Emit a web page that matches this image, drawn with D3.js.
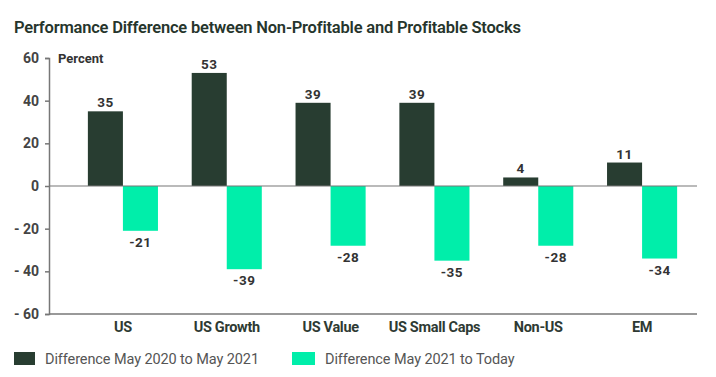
<!DOCTYPE html>
<html>
<head>
<meta charset="utf-8">
<script src="https://cdn.jsdelivr.net/npm/d3@7"></script>
<style>
  body { margin: 0; background: #fff; }
  svg { font-family: Roboto, "Noto Sans", sans-serif; }
</style>
</head>
<body>
<div id="chart"></div>
<script>
// data
var categories = ["US", "US Growth", "US Value", "US Small Caps", "Non-US", "EM"];
var seriesNames = ["Difference May 2020 to May 2021", "Difference May 2021 to Today"];
var diff2020to2021 = [35, 53, 39, 39, 4, 11];
var diff2021toToday = [-21, -39, -28, -35, -28, -34];
var yTicks = [60, 40, 20, 0, -20, -40, -60];

var colors = ["#283d31", "#00eeaa"];
var width = 716, height = 377;

var svg = d3.select("#chart").append("svg")
    .attr("width", width)
    .attr("height", height);

svg.append("text")
    .attr("x", 14).attr("y", 33)
    .attr("font-size", 16.5).attr("font-weight", 600)
    .attr("fill", "#26352c")
    .attr("letter-spacing", -0.2)
    .text("Performance Difference between Non-Profitable and Profitable Stocks");

var plotLeft = 49, plotRight = 697;
var y = d3.scaleLinear().domain([-60, 60]).range([314, 58]);
var x0 = d3.scaleBand().domain(categories).range([71, 694])
    .paddingInner(0.325).paddingOuter(0.1625);
var x1 = d3.scaleBand().domain([0, 1]).range([0, x0.bandwidth()]);

// y axis
var yAxis = svg.append("g")
    .attr("transform", "translate(" + plotLeft + ",0)")
    .call(d3.axisLeft(y).tickValues(yTicks).tickSize(4).tickPadding(6)
        .tickFormat(function (d) { return d < 0 ? "- " + Math.abs(d) : d; }));
yAxis.select(".domain").attr("stroke", "#777").attr("stroke-width", 1.5);
yAxis.selectAll(".tick line").attr("stroke", "#777").attr("stroke-width", 1.5);
yAxis.selectAll(".tick text")
    .attr("font-size", 14).attr("font-weight", 700).attr("fill", "#444")
    .attr("font-family", "Roboto, sans-serif");

svg.append("text")
    .attr("x", 58).attr("y", 63)
    .attr("font-size", 13).attr("font-weight", 700).attr("fill", "#333")
    .text("Percent");

// bottom axis line
svg.append("line")
    .attr("x1", plotLeft).attr("x2", plotRight)
    .attr("y1", y(-60)).attr("y2", y(-60))
    .attr("stroke", "#777").attr("stroke-width", 1.5);

var rows = categories.map(function (c, i) {
    return { cat: c, vals: [diff2020to2021[i], diff2021toToday[i]] };
});

var groups = svg.selectAll(".grp").data(rows).enter().append("g")
    .attr("class", "grp")
    .attr("transform", function (d) { return "translate(" + x0(d.cat) + ",0)"; });

groups.selectAll("rect")
    .data(function (d) { return d.vals; })
    .enter().append("rect")
    .attr("x", function (d, i) { return x1(i); })
    .attr("width", x1.bandwidth())
    .attr("y", function (d) { return y(Math.max(0, d)); })
    .attr("height", function (d) { return Math.abs(y(d) - y(0)); })
    .attr("fill", function (d, i) { return colors[i]; });

groups.selectAll(".val")
    .data(function (d) { return d.vals; })
    .enter().append("text")
    .attr("class", "val")
    .attr("x", function (d, i) { return x1(i) + x1.bandwidth() / 2; })
    .attr("y", function (d) { return d >= 0 ? y(d) - 4 : y(d) + 16; })
    .attr("text-anchor", "middle")
    .attr("font-size", 13.5).attr("font-weight", 700).attr("fill", "#333")
    .attr("letter-spacing", 0.5)
    .text(function (d) { return d; });

// zero line
svg.append("line")
    .attr("x1", plotLeft).attr("x2", plotRight)
    .attr("y1", y(0)).attr("y2", y(0))
    .attr("stroke", "#777").attr("stroke-width", 1.2);

// category labels
svg.selectAll(".cat").data(categories).enter().append("text")
    .attr("class", "cat")
    .attr("x", function (d) { return x0(d) + x0.bandwidth() / 2; })
    .attr("y", 332)
    .attr("text-anchor", "middle")
    .attr("font-size", 14.5).attr("font-weight", 700).attr("fill", "#2e3a33")
    .attr("letter-spacing", -0.3)
    .text(function (d) { return d; });

// legend
var legendX = [14, 292];
var legend = svg.selectAll(".leg").data(seriesNames).enter().append("g")
    .attr("class", "leg")
    .attr("transform", function (d, i) { return "translate(" + legendX[i] + ",352)"; });
legend.append("rect")
    .attr("width", function (d, i) { return i === 0 ? 21 : 23; }).attr("height", 13)
    .attr("fill", function (d, i) { return colors[i]; });
legend.append("text")
    .attr("x", function (d, i) { return i === 0 ? 31 : 33; }).attr("y", 11.5)
    .attr("font-size", 14.5).attr("fill", "#555")
    .attr("letter-spacing", -0.1)
    .text(function (d) { return d; });
</script>
</body>
</html>
